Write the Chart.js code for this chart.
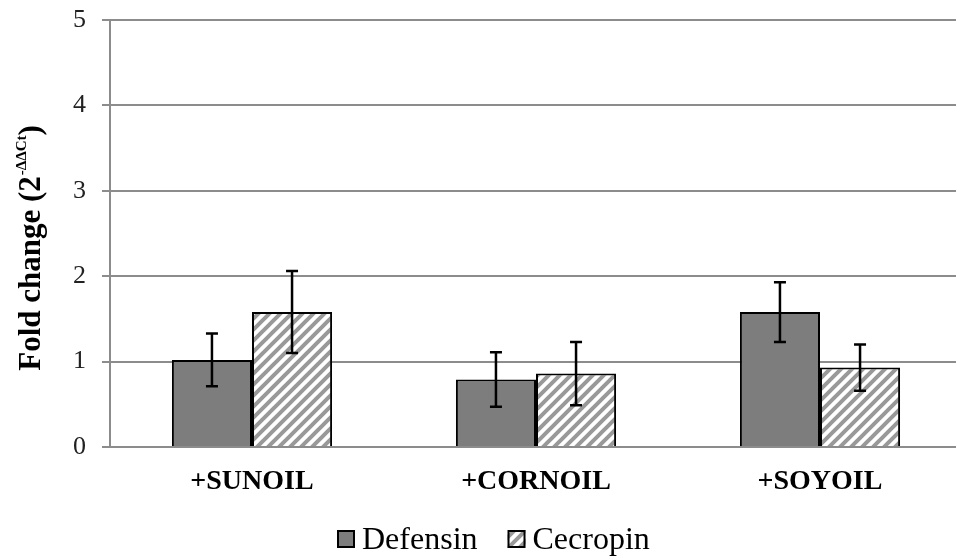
<!DOCTYPE html>
<html>
<head>
<meta charset="utf-8">
<script src="https://cdn.jsdelivr.net/npm/chart.js@4/dist/chart.umd.min.js"></script>
<style>
  html, body { margin: 0; padding: 0; background: #fff; overflow: hidden; }
  #wrap { width: 962px; height: 559px; position: relative; }
</style>
</head>
<body>
<div id="wrap"><canvas id="c"></canvas></div>
<script>
// Oil treatments on the x axis
const categories = ['+SUNOIL', '+CORNOIL', '+SOYOIL'];
// Mean fold change and error (±) per gene
const defensin = [1.02, 0.79, 1.58];
const defensinErr = [0.31, 0.32, 0.35];
const cecropin = [1.58, 0.86, 0.93];
const cecropinErr = [0.48, 0.37, 0.27];
// Y axis range and step
const yMin = 0, yMax = 5, yStep = 1;

const SERIF = "'Liberation Serif', 'Times New Roman', serif";
const GRID = '#8c8c8c';

// Diagonal "/" hatch for the Cecropin bars
function makeHatch() {
  const s = 11;
  const c = document.createElement('canvas');
  c.width = s; c.height = s;
  const g = c.getContext('2d');
  g.fillStyle = '#fff';
  g.fillRect(0, 0, s, s);
  g.strokeStyle = '#999';
  g.lineWidth = 4;
  g.beginPath();
  g.moveTo(-2, s + 2); g.lineTo(s + 2, -2);
  g.moveTo(-2 - s, s + 2); g.lineTo(2, -2);
  g.moveTo(s - 2, s + 2); g.lineTo(s + 2 + s, -2);
  g.stroke();
  return g.createPattern(c, 'repeat');
}
const hatch = makeHatch();

// Error bars with caps, placed on each bar through the y scale
const errorBars = {
  id: 'errorBars',
  afterDatasetsDraw(chart) {
    const ctx = chart.ctx;
    const y = chart.scales.y;
    chart.data.datasets.forEach((ds, i) => {
      const meta = chart.getDatasetMeta(i);
      meta.data.forEach((bar, j) => {
        const v = ds.data[j], e = ds.errors[j];
        const yt = y.getPixelForValue(v + e);
        const yb = y.getPixelForValue(v - e);
        ctx.save();
        ctx.strokeStyle = '#000';
        ctx.lineWidth = 2.5;
        ctx.beginPath();
        ctx.moveTo(bar.x, yt); ctx.lineTo(bar.x, yb);
        ctx.moveTo(bar.x - 6, yt); ctx.lineTo(bar.x + 6, yt);
        ctx.moveTo(bar.x - 6, yb); ctx.lineTo(bar.x + 6, yb);
        ctx.stroke();
        ctx.restore();
      });
    });
  }
};

// Rotated y-axis title with superscript exponent
const yTitle = {
  id: 'yTitle',
  afterDraw(chart) {
    const ctx = chart.ctx;
    const main = 'Fold change (2';
    const sup = '-ΔΔCt';
    const tail = ')';
    ctx.save();
    ctx.fillStyle = '#000';
    const fMain = "bold 31px " + SERIF;
    const fSup = "bold 15px " + SERIF;
    ctx.font = fMain;
    const wMain = ctx.measureText(main).width;
    const wTail = ctx.measureText(tail).width;
    ctx.font = fSup;
    const wSup = ctx.measureText(sup).width;
    const total = wMain + wSup + wTail + 1;
    const cx = 40, cy = 248;
    ctx.translate(cx, cy);
    ctx.rotate(-Math.PI / 2);
    ctx.textBaseline = 'alphabetic';
    ctx.textAlign = 'left';
    let x = -total / 2;
    ctx.font = fMain;
    ctx.fillText(main, x, 0);
    x += wMain;
    ctx.font = fSup;
    ctx.fillText(sup, x + 1, -14);
    x += wSup + 1;
    ctx.font = fMain;
    ctx.fillText(tail, x, 0);
    ctx.restore();
  }
};

// Legend row under the axis
const legendRow = {
  id: 'legendRow',
  afterDraw(chart) {
    const ctx = chart.ctx;
    ctx.save();
    ctx.font = "32px " + SERIF;
    ctx.textBaseline = 'alphabetic';
    ctx.textAlign = 'left';
    let x = 337;
    const boxTop = 530, box = 18, base = 549;
    chart.data.datasets.forEach((ds) => {
      ctx.fillStyle = ds.backgroundColor;
      ctx.fillRect(x, boxTop, box, box);
      ctx.strokeStyle = '#000';
      ctx.lineWidth = 2;
      ctx.strokeRect(x + 1, boxTop + 1, box - 2, box - 2);
      ctx.fillStyle = '#000';
      ctx.fillText(ds.label, x + box + 7, base);
      x += box + 7 + ctx.measureText(ds.label).width + 30;
    });
    ctx.restore();
  }
};

new Chart(document.getElementById('c'), {
  type: 'bar',
  data: {
    labels: categories,
    datasets: [
      {
        label: 'Defensin',
        data: defensin,
        errors: defensinErr,
        backgroundColor: '#7d7d7d',
        borderColor: '#000',
        borderWidth: 2
      },
      {
        label: 'Cecropin',
        data: cecropin,
        errors: cecropinErr,
        backgroundColor: hatch,
        borderColor: '#000',
        borderWidth: 2
      }
    ]
  },
  options: {
    responsive: true,
    maintainAspectRatio: false,
    animation: false,
    layout: { padding: { top: 20, right: 0, bottom: 0, left: 0 } },
    datasets: { bar: { categoryPercentage: 0.564, barPercentage: 1.0 } },
    plugins: {
      legend: { display: false },
      tooltip: { enabled: false },
      title: { display: false }
    },
    scales: {
      x: {
        grid: { display: false, drawTicks: false },
        border: { display: true, color: GRID, width: 2 },
        ticks: {
          color: '#000',
          padding: 18,
          font: { family: SERIF, size: 28, weight: 'bold' }
        },
        afterFit(scale) { scale.height = 112; }
      },
      y: {
        min: yMin,
        max: yMax,
        ticks: {
          stepSize: yStep,
          color: '#222',
          padding: 16,
          font: { family: SERIF, size: 26 }
        },
        grid: { color: GRID, lineWidth: 2, tickLength: 8, tickColor: GRID, drawTicks: true },
        border: { display: true, color: GRID, width: 2 },
        afterFit(scale) {
          scale.width = 110;
          scale.paddingTop = 0;
          scale.paddingBottom = 0;
        }
      }
    }
  },
  plugins: [errorBars, yTitle, legendRow]
});
</script>
</body>
</html>
